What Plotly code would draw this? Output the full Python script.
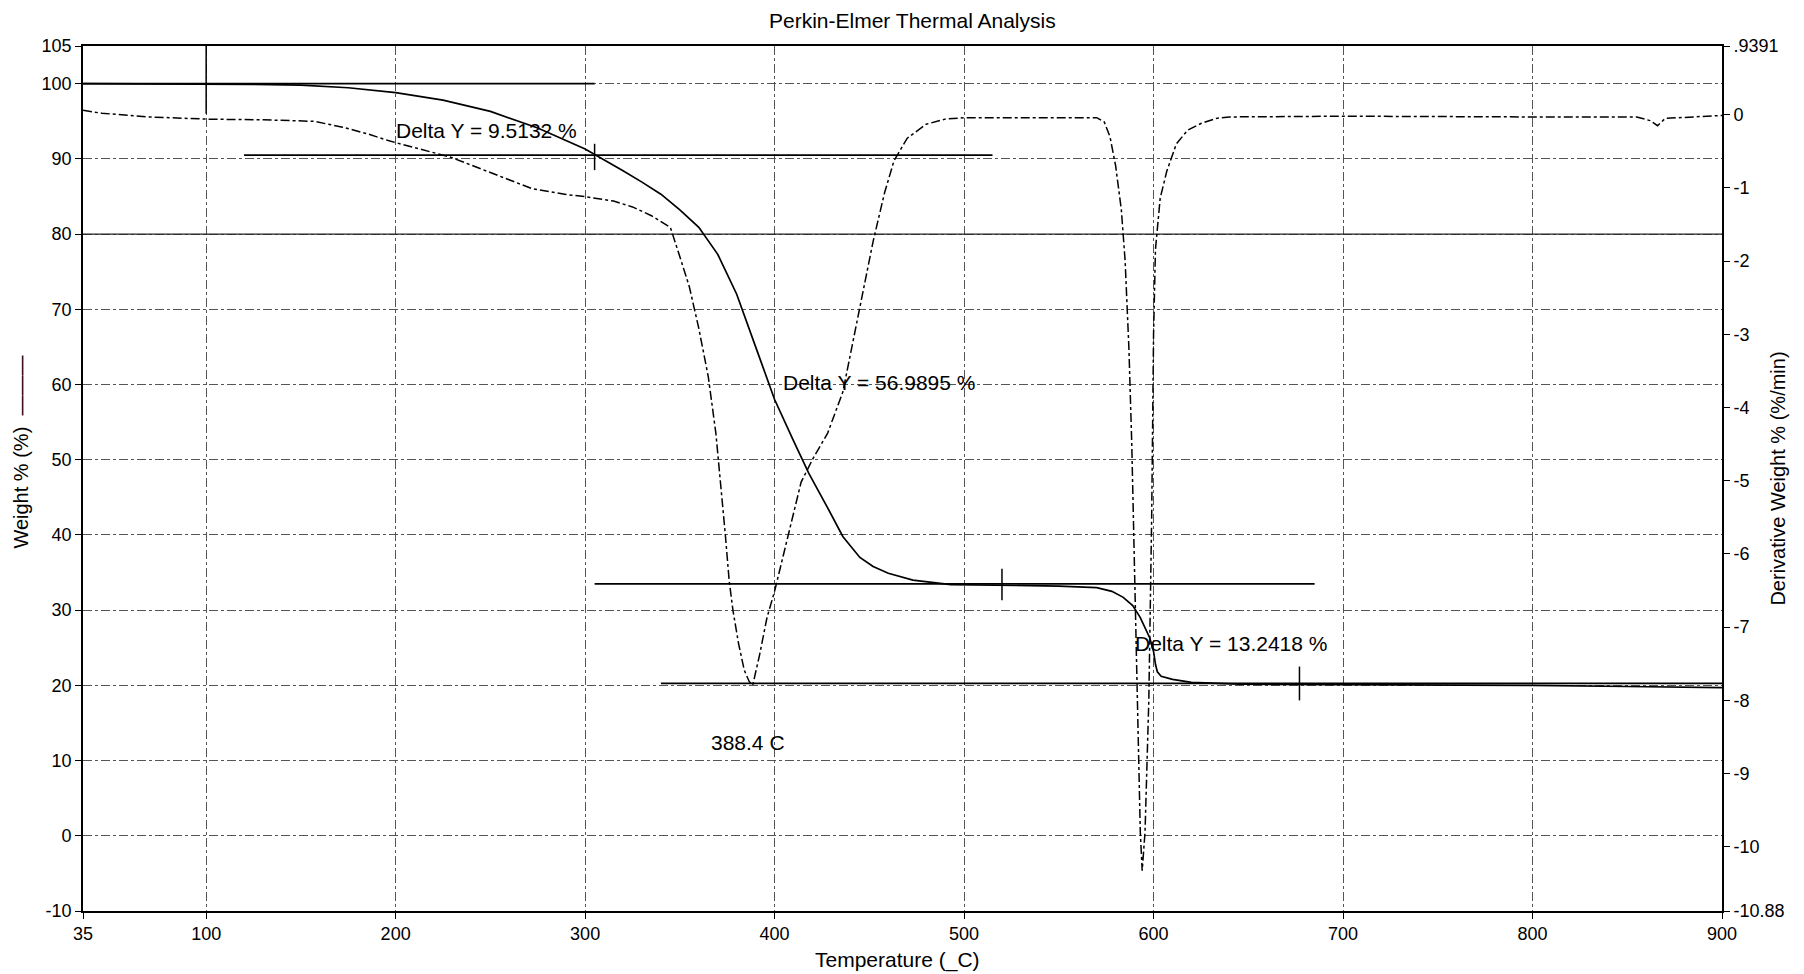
import plotly.graph_objects as go

# ---------------- data ----------------
# Weight % curve (left axis)
weight_T = [35, 60, 100, 125, 150, 175, 200, 225, 250, 275, 300, 310, 320, 330, 340, 350, 360, 370, 380, 390,
            400, 410, 418, 428, 436, 445, 452, 460, 473, 493, 520, 550, 570, 578, 584, 589, 593, 596, 598, 600,
            601, 602, 604, 610, 620, 645, 700, 800, 850, 900]
weight_W = [100.0, 100.0, 99.95, 99.9, 99.8, 99.45, 98.8, 97.8, 96.3, 94.1, 91.3, 89.9, 88.4, 86.9, 85.3, 83.2, 80.9, 77.3, 72.0, 65.0,
            58.0, 52.5, 48.2, 43.6, 39.8, 37.0, 35.8, 34.9, 34.0, 33.4, 33.3, 33.2, 33.0, 32.5, 31.7, 30.6, 29.0, 27.5, 26.3, 24.5,
            22.8, 21.8, 21.2, 20.8, 20.4, 20.15, 20.1, 20.0, 19.85, 19.7]

# Derivative weight % (%/min) curve (right axis)
deriv_T = [35, 45, 70, 100, 130, 157, 172, 185, 197, 213, 229, 250, 272, 290, 300, 315, 325, 335, 345, 350,
           355, 360, 365, 369, 372, 374, 376, 378, 381, 384, 386.5, 388.4, 392, 396, 400, 405, 408, 414, 420, 428,
           436, 444, 452, 458, 463, 470, 480, 490, 500, 540, 570, 574, 577, 580, 583, 585, 587, 588.5, 590, 591,
           592, 593, 594, 595.5, 597.5, 599, 600, 601, 603.5, 607, 612, 618, 625, 633, 640, 700,
           800, 855, 862, 866, 870, 900]
deriv_D = [0.06, 0.02, -0.03, -0.06, -0.07, -0.09, -0.17, -0.26, -0.36, -0.47, -0.58, -0.79, -1.01, -1.09, -1.12, -1.18, -1.26, -1.38, -1.54, -1.94,
           -2.35, -2.92, -3.58, -4.35, -5.13, -5.74, -6.36, -6.77, -7.23, -7.59, -7.74, -7.80, -7.39, -6.87, -6.51, -5.97, -5.64, -5.02, -4.71, -4.35,
           -3.79, -2.76, -1.73, -1.07, -0.63, -0.32, -0.13, -0.06, -0.04, -0.04, -0.04, -0.10, -0.30, -0.70, -1.30, -2.0, -3.2, -4.5, -6.2, -7.4,
           -8.8, -9.8, -10.33, -9.8, -8.0, -5.5, -3.0, -1.84, -1.14, -0.77, -0.40, -0.21, -0.12, -0.05, -0.03, -0.02,
           -0.03, -0.03, -0.08, -0.15, -0.05, -0.01]

# Step-analysis baselines (weight levels) and their temperature spans
baseline_levels = [100.0, 90.49, 33.50, 20.26]
baseline_start = [35, 120, 305, 340]
baseline_end = [305, 515, 685, 900]

# Heavier horizontal grid levels
heavy_grid_levels = [80]

# Step limit markers (vertical ticks)
marker_T = [100, 305, 520, 677]
marker_lo = [96.0, 88.5, 31.3, 18.0]
marker_hi = [105.0, 92.0, 35.5, 22.5]

# Annotations
label_texts = ["Delta Y = 9.5132 %", "Delta Y = 56.9895 %", "Delta Y = 13.2418 %", "388.4 C"]
label_T = [248, 455, 641, 386]
label_W = [93.8, 60.2, 25.5, 12.4]

# Axis ticks
x_ticks = [35, 100, 200, 300, 400, 500, 600, 700, 800, 900]
y_ticks = [105, 100, 90, 80, 70, 60, 50, 40, 30, 20, 10, 0, -10]
y2_ticks = [0.9391, 0, -1, -2, -3, -4, -5, -6, -7, -8, -9, -10, -10.88]
y2_ticktext = [".9391", "0", "-1", "-2", "-3", "-4", "-5", "-6", "-7", "-8", "-9", "-10", "-10.88"]

FONT = "Arial, Liberation Sans, sans-serif"

fig = go.Figure()

# baselines
for lvl, t0, t1 in zip(baseline_levels, baseline_start, baseline_end):
    fig.add_trace(go.Scatter(x=[t0, t1], y=[lvl, lvl], mode="lines",
                             line=dict(color="black", width=1.7), showlegend=False, hoverinfo="skip"))
for lvl in heavy_grid_levels:
    fig.add_trace(go.Scatter(x=[x_ticks[0], x_ticks[-1]], y=[lvl, lvl], mode="lines",
                             line=dict(color="#222", width=1.3), showlegend=False, hoverinfo="skip"))
# markers
for t, lo, hi in zip(marker_T, marker_lo, marker_hi):
    fig.add_trace(go.Scatter(x=[t, t], y=[lo, hi], mode="lines",
                             line=dict(color="black", width=1.5), showlegend=False, hoverinfo="skip"))

# weight curve
fig.add_trace(go.Scatter(x=weight_T, y=weight_W, mode="lines", name="Weight %",
                         line=dict(color="black", width=1.7), showlegend=False))
# derivative curve
fig.add_trace(go.Scatter(x=deriv_T, y=deriv_D, mode="lines", name="Derivative Weight %",
                         yaxis="y2", line=dict(color="black", width=1.5, dash="dashdot"), showlegend=False))

annotations = []
for txt, t, w in zip(label_texts, label_T, label_W):
    annotations.append(dict(x=t, y=w, xref="x", yref="y", text=txt, showarrow=False,
                            font=dict(family=FONT, size=21, color="black"),
                            xanchor="center", yanchor="middle"))
# titles
annotations.append(dict(x=0.506, y=1.029, xref="paper", yref="paper", text="Perkin-Elmer Thermal Analysis",
                        showarrow=False, font=dict(family=FONT, size=21, color="black"),
                        xanchor="center", yanchor="middle"))
annotations.append(dict(x=0.4967, y=-0.0566, xref="paper", yref="paper", text="Temperature (_C)",
                        showarrow=False, font=dict(family=FONT, size=21, color="black"),
                        xanchor="center", yanchor="middle"))
annotations.append(dict(x=-0.0378, y=0.53, xref="paper", yref="paper", text="Weight % (%)  ———",
                        showarrow=False, textangle=-90, font=dict(family=FONT, size=20, color="black"),
                        xanchor="center", yanchor="middle"))
annotations.append(dict(x=1.0336, y=0.50, xref="paper", yref="paper", text="Derivative Weight % (%/min)",
                        showarrow=False, textangle=-90, font=dict(family=FONT, size=20, color="black"),
                        xanchor="center", yanchor="middle"))

fig.update_layout(
    width=1804, height=974,
    margin=dict(l=83, r=82, t=46, b=63),
    paper_bgcolor="white", plot_bgcolor="white",
    font=dict(family=FONT, size=18, color="black"),
    annotations=annotations,
    xaxis=dict(range=[35, 900], tickvals=x_ticks, ticktext=[str(v) for v in x_ticks],
               showline=True, linecolor="black", linewidth=1.6, mirror=True,
               ticks="outside", ticklen=6, tickcolor="black",
               showgrid=True, gridcolor="#555", gridwidth=1, griddash="dashdot",
               zeroline=False, tickfont=dict(size=18)),
    yaxis=dict(range=[-10, 105], tickvals=y_ticks, ticktext=[str(v) for v in y_ticks],
               showline=True, linecolor="black", linewidth=1.6,
               ticks="outside", ticklen=6, tickcolor="black",
               showgrid=True, gridcolor="#555", gridwidth=1, griddash="dashdot",
               zeroline=False, tickfont=dict(size=18)),
    yaxis2=dict(range=[-10.88, 0.9391], overlaying="y", side="right", tickvals=y2_ticks, ticktext=y2_ticktext,
                showline=True, linecolor="black", linewidth=1.6,
                ticks="outside", ticklen=6, tickcolor="black",
                showgrid=False, zeroline=False, tickfont=dict(size=18)),
)

fig.write_html("out.html")
